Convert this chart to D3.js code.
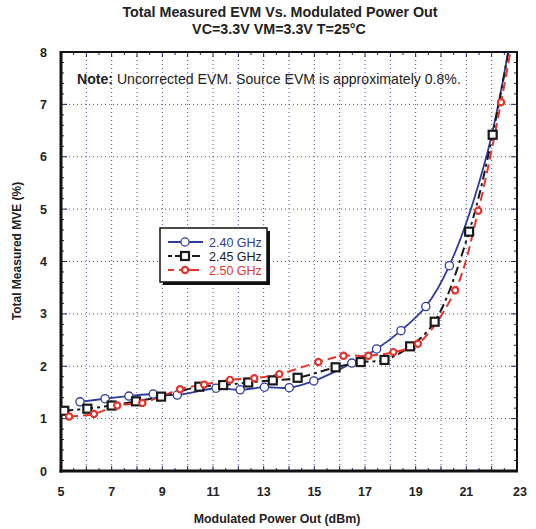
<!DOCTYPE html>
<html><head><meta charset="utf-8">
<script src="https://cdn.jsdelivr.net/npm/d3@7"></script>
<style>
html,body{margin:0;padding:0;background:#fff;}
svg text{font-family:"Liberation Sans",Arial,Helvetica,sans-serif;}
</style></head>
<body><svg id="c" width="536" height="529"></svg>
<script>
// ---- data ----
const seriesNames = ["2.40 GHz", "2.45 GHz", "2.50 GHz"];
const blueX = [5.75, 6.74, 7.68, 8.64, 9.59, 11.12, 12.07, 13.03, 14.01, 14.98, 16.48, 17.46, 18.42, 19.40, 20.33];
const blueY = [1.32, 1.38, 1.43, 1.47, 1.45, 1.58, 1.55, 1.60, 1.59, 1.72, 2.06, 2.33, 2.68, 3.14, 3.92];
const blueTailX = [21.8, 22.9];
const blueTailY = [6.02, 8.7];
const blackX = [5.13, 6.04, 7.0, 7.96, 8.95, 10.46, 11.40, 12.39, 13.36, 14.34, 15.84, 16.83, 17.77, 18.78, 19.75, 21.11, 22.04];
const blackY = [1.15, 1.19, 1.25, 1.33, 1.42, 1.61, 1.64, 1.69, 1.73, 1.78, 1.98, 2.08, 2.12, 2.38, 2.85, 4.57, 6.42];
const blackTailX = [23.0];
const blackTailY = [8.95];
const redX = [5.32, 6.30, 7.22, 8.21, 9.70, 10.65, 11.67, 12.63, 13.62, 15.16, 16.15, 17.13, 18.12, 19.09, 20.56, 21.47, 22.37];
const redY = [1.04, 1.09, 1.25, 1.30, 1.56, 1.65, 1.74, 1.77, 1.85, 2.08, 2.20, 2.20, 2.27, 2.43, 3.45, 4.97, 7.04];
const redTailX = [23.1];
const redTailY = [9.0];
const xTickLabels = [5, 7, 9, 11, 13, 15, 17, 19, 21, 23];
const yTickLabels = [0, 1, 2, 3, 4, 5, 6, 7, 8];

// ---- layout ----
const L = 61, R = 517, T = 52, B = 471;
const x = d3.scaleLinear().domain([5, 23]).range([L, R]);
const y = d3.scaleLinear().domain([0, 8]).range([B, T]);
const svg = d3.select("#c");
const BLUE = "#2f3c9c", RED = "#e2352c", BLACK = "#1a1a1a", GRID = "#3f4fb5";

svg.append("defs").append("clipPath").attr("id", "clip")
  .append("rect").attr("x", L).attr("y", T).attr("width", R - L).attr("height", B - T);

// titles
svg.append("text").attr("x", 280).attr("y", 17).attr("text-anchor", "middle")
  .attr("font-weight", "bold").attr("font-size", 14.3).attr("fill", "#222")
  .text("Total Measured EVM Vs. Modulated Power Out");
svg.append("text").attr("x", 279).attr("y", 33.5).attr("text-anchor", "middle")
  .attr("font-weight", "bold").attr("font-size", 14.3).attr("fill", "#222")
  .text("VC=3.3V VM=3.3V T=25°C");

// grid
const g = svg.append("g");
g.selectAll(".vg").data(d3.range(6, 23)).enter().append("line")
  .attr("x1", d => x(d)).attr("x2", d => x(d)).attr("y1", T).attr("y2", B)
  .attr("stroke", GRID).attr("stroke-width", 1).attr("stroke-dasharray", "1,3");
g.selectAll(".hg").data(d3.range(1, 8)).enter().append("line")
  .attr("y1", d => y(d)).attr("y2", d => y(d)).attr("x1", L).attr("x2", R)
  .attr("stroke", GRID).attr("stroke-width", 1).attr("stroke-dasharray", "1,3");

// ticks (inward, all four sides)
const tk = svg.append("g").attr("stroke", "#1c2560").attr("stroke-width", 1);
d3.range(5, 23.01, 0.5).forEach(v => {
  const len = Number.isInteger(v) ? 5 : 3;
  tk.append("line").attr("x1", x(v)).attr("x2", x(v)).attr("y1", B).attr("y2", B - len);
  tk.append("line").attr("x1", x(v)).attr("x2", x(v)).attr("y1", T).attr("y2", T + len);
});
d3.range(0, 40.5, 1).forEach(i => {
  const v = i * 0.2;
  const len = (i % 5 === 0) ? 6 : 3;
  tk.append("line").attr("y1", y(v)).attr("y2", y(v)).attr("x1", L).attr("x2", L + len);
  tk.append("line").attr("y1", y(v)).attr("y2", y(v)).attr("x1", R).attr("x2", R - len);
});

// frame
svg.append("rect").attr("x", L).attr("y", T).attr("width", R - L).attr("height", B - T)
  .attr("fill", "none").attr("stroke", "#111").attr("stroke-width", 2);
svg.append("line").attr("x1", L).attr("x2", L).attr("y1", T - 1).attr("y2", B + 1.5)
  .attr("stroke", "#111").attr("stroke-width", 3);
svg.append("line").attr("x1", L - 1.5).attr("x2", R + 1).attr("y1", B).attr("y2", B)
  .attr("stroke", "#111").attr("stroke-width", 3);

// tick labels
svg.selectAll(".xl").data(xTickLabels).enter().append("text")
  .attr("x", d => x(d) + (d === 23 ? 3 : 0)).attr("y", 496).attr("text-anchor", "middle")
  .attr("font-weight", "bold").attr("font-size", 12.5).attr("fill", "#222").text(d => d);
svg.selectAll(".yl").data(yTickLabels).enter().append("text")
  .attr("x", 47).attr("y", d => y(d) + 4.5).attr("text-anchor", "end")
  .attr("font-weight", "bold").attr("font-size", 12.5).attr("fill", "#222").text(d => d);

// axis titles
svg.append("text").attr("x", 277).attr("y", 523).attr("text-anchor", "middle")
  .attr("font-weight", "bold").attr("font-size", 12.4).attr("fill", "#222")
  .text("Modulated Power Out (dBm)");
svg.append("text").attr("transform", "translate(21,251) rotate(-90)").attr("text-anchor", "middle")
  .attr("font-weight", "bold").attr("font-size", 12).attr("fill", "#222")
  .text("Total Measured MVE (%)");

// note
const note = svg.append("text").attr("x", 77).attr("y", 84).attr("font-size", 14.1).attr("fill", "#222");
note.append("tspan").attr("font-weight", "bold").text("Note:");
note.append("tspan").text(" Uncorrected EVM. Source EVM is approximately 0.8%.");

// series
const zip = (a, b) => a.map((v, i) => [v, b[i]]);
const series = [
  {name: seriesNames[0], pts: zip(blueX, blueY), tail: zip(blueTailX, blueTailY), color: BLUE, dash: null, w: 1.8, marker: "circleBig"},
  {name: seriesNames[1], pts: zip(blackX, blackY), tail: zip(blackTailX, blackTailY), color: BLACK, dash: "9,4,3,4", w: 2, marker: "square"},
  {name: seriesNames[2], pts: zip(redX, redY), tail: zip(redTailX, redTailY), color: RED, dash: "9,5", w: 2, marker: "circleSmall"}
];
const line = d3.line().x(d => x(d[0])).y(d => y(d[1])).curve(d3.curveCatmullRom.alpha(0.5));
const plot = svg.append("g").attr("clip-path", "url(#clip)");

function drawMarker(sel, type, color, cx, cy) {
  if (type === "circleBig") {
    sel.append("circle").attr("cx", cx).attr("cy", cy).attr("r", 4.1)
      .attr("fill", "#fff").attr("stroke", color).attr("stroke-width", 1.3);
  } else if (type === "square") {
    sel.append("rect").attr("x", cx - 4).attr("y", cy - 4).attr("width", 8).attr("height", 8)
      .attr("fill", "#fff").attr("stroke", color).attr("stroke-width", 2.2);
  } else {
    sel.append("circle").attr("cx", cx).attr("cy", cy).attr("r", 3.1)
      .attr("fill", "#fff").attr("stroke", color).attr("stroke-width", 2.2);
  }
}

series.forEach(s => {
  plot.append("path").datum(s.pts.concat(s.tail)).attr("d", line)
    .attr("fill", "none").attr("stroke", s.color).attr("stroke-width", s.w)
    .attr("stroke-dasharray", s.dash);
});
series.forEach(s => {
  s.pts.forEach(p => drawMarker(plot, s.marker, s.color, x(p[0]), y(p[1])));
});

// legend
const lg = svg.append("g");
lg.append("rect").attr("x", 163).attr("y", 231).attr("width", 107).attr("height", 54).attr("fill", "#111");
lg.append("rect").attr("x", 160).attr("y", 228).attr("width", 107).attr("height", 54)
  .attr("fill", "#fff").attr("stroke", "#111").attr("stroke-width", 1.5);
series.forEach((s, i) => {
  const yy = 242 + i * 14;
  lg.append("line").attr("x1", 168).attr("x2", 203).attr("y1", yy).attr("y2", yy)
    .attr("stroke", s.color).attr("stroke-width", s.w).attr("stroke-dasharray", s.dash ? (i === 1 ? "4,3,14,3,8" : "6,5,20") : null);
  drawMarker(lg, s.marker, s.color, 185, yy);
  lg.append("text").attr("x", 209).attr("y", yy + 4.5).attr("font-size", 12.5)
    .attr("fill", s.color).text(s.name);
});
</script></body></html>
